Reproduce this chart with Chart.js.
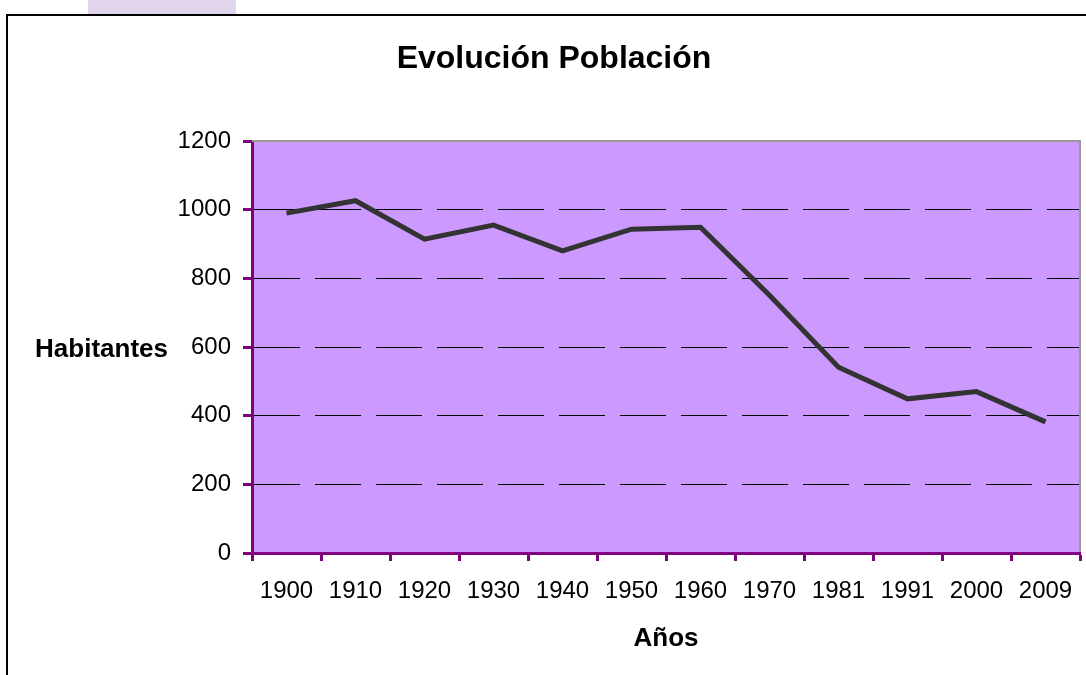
<!DOCTYPE html>
<html>
<head>
<meta charset="utf-8">
<script src="https://cdn.jsdelivr.net/npm/chart.js@4/dist/chart.umd.min.js"></script>
<style>
  body { margin: 0; background: #ffffff; }
  #wrap { width: 1086px; height: 675px; position: relative; }
</style>
</head>
<body>
<div id="wrap"><canvas id="poblacionChart"></canvas></div>
<script>
// Datos del gráfico
const anios = ['1900', '1910', '1920', '1930', '1940', '1950', '1960', '1970', '1981', '1991', '2000', '2009'];
const habitantes = [990, 1026, 914, 955, 880, 943, 949, 751, 541, 449, 470, 382];
const yTicks = [0, 200, 400, 600, 800, 1000, 1200];

const titulo = 'Evolución Población';
const tituloY = 'Habitantes';
const tituloX = 'Años';

const fuente = "'Liberation Sans', Arial, sans-serif";
const morado = '#800080';

// Fondo, marcos y títulos dibujados a mano
const marcoPlugin = {
  id: 'marco',
  beforeDraw(chart) {
    const ctx = chart.ctx;
    const ca = chart.chartArea;
    ctx.save();
    ctx.fillStyle = '#ffffff';
    ctx.fillRect(0, 0, chart.width, chart.height);
    // pestaña lila arriba
    ctx.fillStyle = '#E2D5EE';
    ctx.fillRect(88, 0, 148, 14);
    // borde negro exterior
    ctx.fillStyle = '#000000';
    ctx.fillRect(6, 14, chart.width, 2);
    ctx.fillRect(6, 14, 2, chart.height);
    // area de trazado
    ctx.fillStyle = '#CC99FF';
    ctx.fillRect(ca.left, ca.top, ca.right - ca.left, ca.bottom - ca.top);
    ctx.restore();
  },
  afterDatasetsDraw(chart) {
    const ctx = chart.ctx;
    const ca = chart.chartArea;
    ctx.save();
    ctx.fillStyle = '#999999';
    ctx.fillRect(ca.left, ca.top - 1, ca.right - ca.left + 1, 2);
    ctx.fillRect(ca.right - 1, ca.top - 1, 2, ca.bottom - ca.top);
    ctx.restore();
  },
  afterDraw(chart) {
    const ctx = chart.ctx;
    const ca = chart.chartArea;
    ctx.save();
    ctx.fillStyle = '#000000';
    ctx.textBaseline = 'alphabetic';
    ctx.textAlign = 'center';
    ctx.font = 'bold 32px ' + fuente;
    ctx.fillText(titulo, 554, 68);
    ctx.font = 'bold 26px ' + fuente;
    ctx.fillText(tituloX, (ca.left + ca.right) / 2, 646);
    ctx.textAlign = 'right';
    ctx.fillText(tituloY, 168, 357);
    ctx.restore();
  }
};

const ctx = document.getElementById('poblacionChart').getContext('2d');
const poblacionChart = new Chart(ctx, {
  type: 'line',
  data: {
    labels: anios,
    datasets: [{
      label: 'Habitantes',
      data: habitantes,
      borderColor: '#333333',
      borderWidth: 5,
      pointRadius: 0,
      tension: 0,
      fill: false
    }]
  },
  options: {
    responsive: true,
    maintainAspectRatio: false,
    animation: false,
    layout: { padding: { top: 141, right: 6, left: 0, bottom: 0 } },
    plugins: {
      legend: { display: false },
      title: { display: false },
      tooltip: { enabled: false }
    },
    scales: {
      x: {
        offset: true,
        afterFit(scale) {
          scale.height = 122;
          scale.paddingLeft = 0;
          scale.paddingRight = 0;
        },
        grid: {
          offset: true,
          drawOnChartArea: false,
          tickColor: morado,
          tickWidth: 3,
          tickLength: 8,
          tickBorderDash: []
        },
        border: { display: true, color: morado, width: 3 },
        ticks: {
          color: '#000000',
          font: { family: fuente, size: 24 },
          padding: 16,
          maxRotation: 0,
          autoSkip: false
        }
      },
      y: {
        min: 0,
        max: 1200,
        afterFit(scale) { scale.width = 252; },
        afterBuildTicks(scale) { scale.ticks = yTicks.map(v => ({ value: v })); },
        grid: {
          color: c => (c.tick && (c.tick.value === 0 || c.tick.value === 1200)) ? 'rgba(0,0,0,0)' : '#000000',
          lineWidth: 1,
          tickColor: morado,
          tickWidth: 3,
          tickLength: 9,
          tickBorderDash: []
        },
        border: { display: true, color: morado, width: 3, dash: [46, 15], dashOffset: 0 },
        ticks: {
          color: '#000000',
          font: { family: fuente, size: 24 },
          padding: 12,
          callback: v => String(v)
        }
      }
    }
  },
  plugins: [marcoPlugin]
});
</script>
</body>
</html>
